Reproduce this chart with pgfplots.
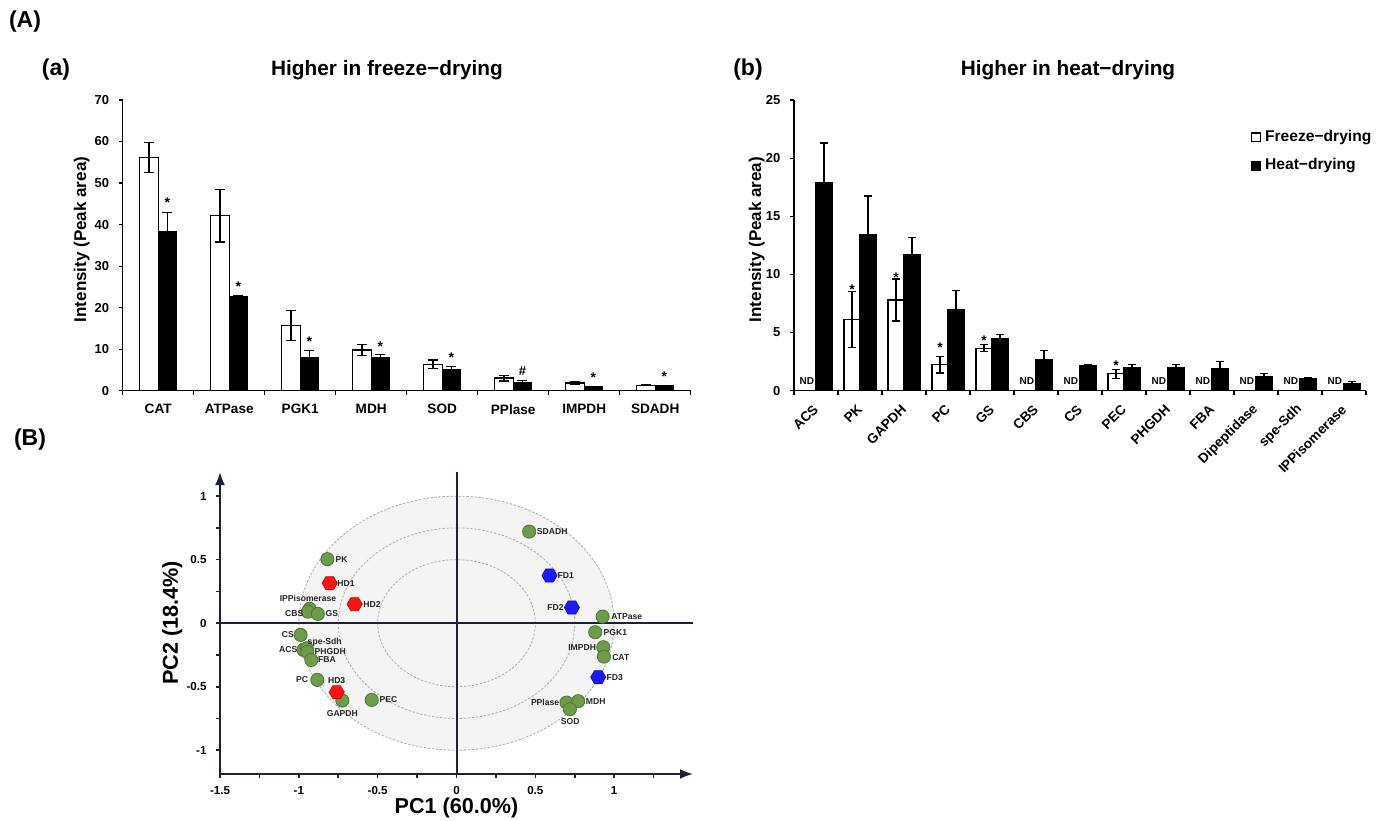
\documentclass[border=0pt]{standalone}
\usepackage{pgfplots}
\pgfplotsset{compat=1.18}
\usepackage{fontspec}
\setmainfont{Liberation Sans}
\usetikzlibrary{arrows.meta}

\definecolor{pcgreen}{RGB}{112,155,76}
\definecolor{pcgreendk}{RGB}{78,118,52}
\definecolor{hdred}{RGB}{250,20,20}
\definecolor{hdreddk}{RGB}{200,0,0}
\definecolor{fdblue}{RGB}{28,28,240}
\definecolor{fdbluedk}{RGB}{10,10,190}
\definecolor{axnavy}{RGB}{30,32,55}

\newcommand{\fs}[1]{\fontsize{#1}{#1}\selectfont\bfseries}

\pgfdeclareplotmark{hexagon}{%
  \pgfpathmoveto{\pgfpointpolar{0}{\pgfplotmarksize}}%
  \pgfpathlineto{\pgfpointpolar{60}{\pgfplotmarksize}}%
  \pgfpathlineto{\pgfpointpolar{120}{\pgfplotmarksize}}%
  \pgfpathlineto{\pgfpointpolar{180}{\pgfplotmarksize}}%
  \pgfpathlineto{\pgfpointpolar{240}{\pgfplotmarksize}}%
  \pgfpathlineto{\pgfpointpolar{300}{\pgfplotmarksize}}%
  \pgfpathclose
  \pgfusepathqfillstroke}

\pgfplotsset{
  barax/.style={scale only axis, anchor=south west,
    axis x line*=bottom, axis y line*=left,
    axis line style={line width=0.6pt},
    tick align=outside, major tick length=1.8pt, minor tick length=2pt,
    tick style={black, line width=0.6pt},
    major x tick style={draw=none},
    /pgf/number format/assume math mode=true,
    yticklabel style={font=\fs{6.5}, xshift=-1.5pt},
    ylabel={Intensity (Peak area)}, ylabel style={font=\fs{8.5}, anchor=center}},
  errs/.style={error bars/.cd, y dir=both, y explicit,
    error bar style={line width=0.6pt, black},
    error mark options={rotate=90, mark size=#1, line width=0.6pt, black}},
  labs/.style={draw=none, forget plot, nodes near coords, point meta=explicit symbolic,
    nodes near coords style={anchor=center, inner sep=0pt, font=\fs{#1}}},
}

\begin{document}
\begin{tikzpicture}
\useasboundingbox (0,0) rectangle (690.5pt,410pt);

\node[font=\fs{11.5}] at (12.5pt,399pt) {(A)};
\node[font=\fs{11.5}] at (28pt,375pt) {(a)};
\node[font=\fs{11.5}] at (374pt,375pt) {(b)};
\node[font=\fs{11.5}] at (15pt,190pt) {(B)};
\node[font=\fs{10.4}] at (193.5pt,375pt) {Higher in freeze−drying};
\node[font=\fs{10.4}] at (534pt,375pt) {Higher in heat−drying};

% (a) higher in freeze-drying; freeze bars at i-0.13, heat bars at i+0.13
\begin{axis}[barax, at={(61.35pt,214.65pt)}, width=284pt, height=145.35pt,
  xmin=0.5, xmax=8.5, ymin=0, ymax=70, ytick={0,10,...,70},
  xtick={1,...,8}, xticklabels={CAT,ATPase,PGK1,MDH,SOD,PPlase,IMPDH,SDADH},
  minor xtick={0.5,1.5,...,8.5},
  xticklabel style={font=\fs{6.8}, yshift=-1.5pt},
  ylabel style={at={(axis description cs:-0.072,0.52)}}]
\addplot[ybar, bar width=9.25pt, bar shift=0pt, fill=white, draw=black, line width=0.6pt, errs=2.5pt]
  coordinates {(0.87,56.1) +- (0,3.6) (1.87,42.1) +- (0,6.3) (2.87,15.7) +- (0,3.6) (3.87,9.8) +- (0,1.35)
  (4.87,6.4) +- (0,1.0) (5.87,3.05) +- (0,0.7) (6.87,1.85) +- (0,0.3) (7.87,1.28) +- (0,0.1)};
\addplot[ybar, bar width=9.25pt, bar shift=0pt, fill=black, draw=black, line width=0.6pt, errs=2.5pt]
  coordinates {(1.13,38.3) +- (0,4.7) (2.13,22.7) +- (0,0.25) (3.13,8.0) +- (0,1.7) (4.13,7.9) +- (0,0.8)
  (5.13,5.05) +- (0,0.8) (6.13,1.85) +- (0,0.55) (7.13,0.96) +- (0,0.1) (8.13,1.2) +- (0,0.1)};
\addplot[labs=7] coordinates {(1.13,45.3) [*] (2.13,25.0) [*] (3.13,11.7) [*] (4.13,10.6) [*]
  (5.13,8.0) [*] (7.13,3.2) [*] (8.13,3.4) [*]};
\addplot[labs=6.5] coordinates {(6.13,4.65) [\#]};
\end{axis}

% (b) higher in heat-drying; freeze bars at i-0.182, heat bars at i+0.182
\begin{axis}[barax, at={(397pt,214.65pt)}, width=286pt, height=145.35pt,
  xmin=0.5, xmax=13.5, ymin=0, ymax=25, ytick={0,5,...,25},
  xtick={1,...,13},
  xticklabels={ACS,PK,GAPDH,PC,GS,CBS,CS,PEC,PHGDH,FBA,Dipeptidase,spe-Sdh,IPPisomerase},
  minor xtick={0.5,1.5,...,13.5},
  xticklabel style={font=\fs{6.8}, rotate=45, anchor=east, inner sep=1pt, xshift=-3.5pt, yshift=-4.5pt},
  ylabel style={at={(axis description cs:-0.065,0.52)}},
  legend style={at={(0.788,0.925)}, anchor=north west, draw=none, fill=none,
    font=\fs{7.8}, row sep=3pt},
  legend cell align=left]
\addlegendimage{legend image code/.code={\draw[black, line width=0.6pt, fill=white] (0pt,-2.2pt) rectangle (4.4pt,2.2pt);}}
\addlegendimage{legend image code/.code={\draw[black, line width=0.6pt, fill=black] (0pt,-2.2pt) rectangle (4.4pt,2.2pt);}}
\legend{Freeze−drying,Heat−drying}
\addplot[forget plot, ybar, bar width=8pt, bar shift=0pt, fill=white, draw=black, line width=0.6pt, errs=2pt]
  coordinates {(1.818,6.13) +- (0,2.4) (2.818,7.8) +- (0,1.8) (3.818,2.22) +- (0,0.7) (4.818,3.65) +- (0,0.3)
  (7.818,1.45) +- (0,0.4)};
\addplot[forget plot, ybar, bar width=8pt, bar shift=0pt, fill=black, draw=black, line width=0.6pt, errs=2pt]
  coordinates {(1.182,17.9) +- (0,3.4) (2.182,13.4) +- (0,3.35) (3.182,11.7) +- (0,1.45) (4.182,7.0) +- (0,1.6)
  (5.182,4.5) +- (0,0.3) (6.182,2.68) +- (0,0.8) (7.182,2.2) +- (0,0.05) (8.182,1.96) +- (0,0.3)
  (9.182,1.96) +- (0,0.3) (10.182,1.9) +- (0,0.58) (11.182,1.24) +- (0,0.23) (12.182,1.0) +- (0,0.15)
  (13.182,0.58) +- (0,0.2)};
\addplot[labs=7] coordinates {(1.82,8.73) [*] (2.82,9.73) [*] (3.82,3.7) [*] (4.82,4.33) [*]
  (7.82,2.12) [*]};
\addplot[labs=5] coordinates {(0.79,0.82) [ND] (5.79,0.82) [ND] (6.79,0.82) [ND] (8.79,0.82) [ND]
  (9.79,0.82) [ND] (10.79,0.82) [ND] (11.79,0.82) [ND] (12.79,0.82) [ND]};
\end{axis}

% (B) PCA biplot
\begin{axis}[scale only axis, anchor=south west, at={(110pt,23pt)}, width=236.5pt, height=151pt,
  xmin=-1.5, xmax=1.5, ymin=-1.187, ymax=1.19,
  axis lines=left,
  axis line style={line width=1pt, axnavy, -{Latex[length=6.5pt,width=5pt]}},
  xtick={-1.5,-1,-0.5,0,0.5,1}, ytick={-1,-0.5,0,0.5,1},
  minor xtick={-1.25,-0.75,-0.25,0.25,0.75,1.25}, minor ytick={-0.75,-0.25,0.25,0.75},
  tick align=outside, major tick length=2pt, minor tick length=2pt,
  tick style={axnavy, line width=0.8pt},
  /pgf/number format/assume math mode=true,
  xticklabel style={font=\fs{5.8}, yshift=-0.7pt},
  yticklabel style={font=\fs{5.8}, xshift=-1.2pt},
  xlabel={PC1 (60.0\%)}, ylabel={PC2 (18.4\%)},
  xlabel style={font=\fs{10.8}, at={(axis description cs:0.5,-0.112)}, anchor=center},
  ylabel style={font=\fs{10.8}, at={(axis description cs:-0.101,0.5)}, anchor=center},
  clip=false]
\draw[fill=gray!9, draw=gray!65, dash pattern=on 1.2pt off 0.8pt, line width=0.4pt]
  (axis cs:0,0) ellipse [x radius=1, y radius=1];
\draw[draw=gray!65, dash pattern=on 1.2pt off 0.8pt, line width=0.4pt]
  (axis cs:0,0) ellipse [x radius=0.75, y radius=0.75];
\draw[draw=gray!65, dash pattern=on 1.2pt off 0.8pt, line width=0.4pt]
  (axis cs:0,0) ellipse [x radius=0.5, y radius=0.5];
\addplot[axnavy, line width=1pt, forget plot] coordinates {(0,-1.187) (0,1.19)};
\addplot[axnavy, line width=1pt, forget plot] coordinates {(-1.5,0) (1.5,0)};
% enzyme loadings
\addplot[only marks, mark=*, mark size=3.3pt, mark options={fill=pcgreen, draw=pcgreendk, line width=0.4pt}]
  coordinates {(-0.819,0.504) (-0.931,0.113) (-0.942,0.091) (-0.879,0.073) (-0.989,-0.092)
  (-0.971,-0.210) (-0.950,-0.198) (-0.947,-0.226) (-0.921,-0.289) (-0.883,-0.446)
  (-0.724,-0.609) (-0.538,-0.604) (0.461,0.721) (0.927,0.052) (0.880,-0.071)
  (0.931,-0.189) (0.935,-0.263) (0.698,-0.625) (0.772,-0.614) (0.719,-0.677)};
% heat-drying samples
\addplot[only marks, mark=hexagon, mark size=3.8pt, mark options={fill=hdred, draw=hdreddk, line width=0.3pt}]
  coordinates {(-0.804,0.315) (-0.646,0.150) (-0.760,-0.543)};
% freeze-drying samples
\addplot[only marks, mark=hexagon, mark size=3.8pt, mark options={fill=fdblue, draw=fdbluedk, line width=0.3pt}]
  coordinates {(0.590,0.375) (0.732,0.123) (0.899,-0.425)};
% point labels
\addplot[labs=4.3, nodes near coords style={text=black!85}] coordinates {
  (-0.728,0.498) [PK] (-0.942,0.197) [IPPisomerase] (-1.029,0.073) [CBS] (-0.790,0.073) [GS]
  (-1.069,-0.092) [CS] (-1.067,-0.210) [ACS] (-0.836,-0.147) [spe-Sdh] (-0.801,-0.224) [PHGDH]
  (-0.822,-0.289) [FBA] (-0.980,-0.446) [PC] (-0.724,-0.714) [GAPDH] (-0.431,-0.604) [PEC]
  (0.607,0.721) [SDADH] (1.080,0.052) [ATPase] (1.008,-0.071) [PGK1] (0.797,-0.189) [IMPDH]
  (1.042,-0.269) [CAT] (0.562,-0.625) [PPlase] (0.883,-0.614) [MDH] (0.721,-0.775) [SOD]
  (-0.701,0.315) [HD1] (-0.536,0.150) [HD2] (-0.760,-0.452) [HD3]
  (0.693,0.375) [FD1] (0.628,0.123) [FD2] (1.004,-0.425) [FD3]};
\end{axis}
\end{tikzpicture}
\end{document}
